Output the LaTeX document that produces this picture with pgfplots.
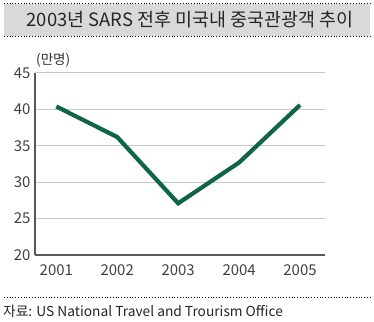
\documentclass[border=0pt]{standalone}
\usepackage{pgfplots}
\pgfplotsset{compat=1.18}
\usepackage{fontspec}
\setmainfont{Noto Sans CJK KR}
\definecolor{linegreen}{HTML}{0F6647}
\definecolor{axgray}{HTML}{595959}
\definecolor{gridgray}{HTML}{C8C8C8}
\definecolor{boxgray}{HTML}{D9D9D9}
\begin{document}
\begin{tikzpicture}[x=1bp,y=1bp]
\path[use as bounding box] (0,0) rectangle (374,322);
% title box
\fill[boxgray] (4,286) rectangle (370,318);
\draw[black, line width=0.8bp, dotted] (4,318.5) -- (370,318.5);
\draw[black, line width=0.8bp, dotted] (4,285.5) -- (370,285.5);
\node[font=\fontsize{18.5}{22}\selectfont, text=black!85] at (190,302) {2003년 SARS 전후 미국내 중국관광객 추이};
% source
\draw[black, line width=0.8bp, dotted] (4,25) -- (370,25);
\node[anchor=west, font=\fontsize{13.8}{16}\selectfont, text=black!85, inner sep=0] at (3,11) {자료: US National Travel and Trourism Office};
\begin{axis}[
  at={(35bp,67bp)}, anchor=south west,
  scale only axis, width=290bp, height=182bp,
  xmin=-0.35, xmax=4.41, ymin=20, ymax=45,
  axis lines=left, axis line style={axgray, line width=1.6bp, -},
  xtick={0,1,2,3,4}, xticklabels={2001,2002,2003,2004,2005},
  ytick={20,25,30,35,40,45},
  major tick length=0pt,
  ymajorgrids, grid style={gridgray, line width=1bp},
  tick label style={font=\fontsize{15}{18}\selectfont, text=black!75},
  /pgf/number format/assume math mode=true,
  yticklabel style={xshift=-1bp},
  xticklabel style={yshift=-6bp},
  clip=false,
]
\addplot[linegreen, line width=4.2bp, line join=miter] coordinates {
(0,40.4) (1,36.2) (2,27.1) (3,32.7) (4,40.6)};
\node[anchor=south west, font=\fontsize{13.6}{16}\selectfont, text=black!80, inner sep=0] at (rel axis cs:0,1) [yshift=6bp, xshift=1bp] {(만명)};
\end{axis}
\end{tikzpicture}
\end{document}
